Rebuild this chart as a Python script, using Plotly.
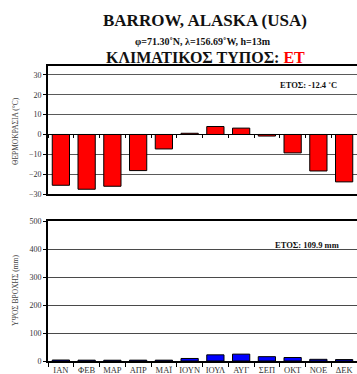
import plotly.graph_objects as go

# Monthly climate normals for Barrow, Alaska
months = ["ΙΑΝ", "ΦΕΒ", "ΜΑΡ", "ΑΠΡ", "ΜΑΪ", "ΙΟΥΝ", "ΙΟΥΛ", "ΑΥΓ", "ΣΕΠ", "ΟΚΤ", "ΝΟΕ", "ΔΕΚ"]
temperature = [-25.6, -27.6, -26.1, -18.2, -7.3, 0.6, 4.0, 3.2, -0.8, -9.3, -18.4, -23.9]
precipitation = [3.5, 3.0, 2.8, 3.0, 3.0, 9.0, 22.0, 24.5, 15.5, 12.5, 6.0, 5.1]
temp_annual = -12.4
precip_annual = 109.9

temp_ticks = [-30, -20, -10, 0, 10, 20, 30]
precip_ticks = [0, 100, 200, 300, 400, 500]
temp_range = [-30, 34.5]
precip_range = [0, 500]

W, H = 357, 374
ML, MR, MT, MB = 48, 0, 66, 13
PLOT_H = H - MT - MB


def py(pixel_y):
    """Paper y for a pixel row measured from the top of the page."""
    return (H - MB - pixel_y) / PLOT_H


def px(pixel_x):
    return (pixel_x - ML) / (W - ML - MR)


top_dom = [py(194), 1.0]
bot_dom = [0.0, py(221)]

SERIF = "Liberation Serif"

fig = go.Figure()

fig.add_trace(go.Bar(
    x=months, y=temperature, xaxis="x", yaxis="y",
    marker=dict(color="#FF0000", line=dict(color="#000000", width=1)),
    showlegend=False, hoverinfo="x+y",
))
fig.add_trace(go.Bar(
    x=months, y=precipitation, xaxis="x2", yaxis="y2",
    marker=dict(color="#0000FF", line=dict(color="#000000", width=1)),
    showlegend=False, hoverinfo="x+y",
))

# invisible trace that carries the category axis drawn along the zero line
fig.add_trace(go.Scatter(x=months, y=[0] * len(months), xaxis="x3", yaxis="y",
                         mode="markers", marker=dict(opacity=0), showlegend=False,
                         hoverinfo="skip"))

zero_pos = top_dom[0] + (0 - temp_range[0]) / (temp_range[1] - temp_range[0]) * (top_dom[1] - top_dom[0])

tickfont = dict(family=SERIF, size=8, color="#333333")

fig.update_layout(
    width=W, height=H,
    margin=dict(l=ML, r=MR, t=MT, b=MB),
    paper_bgcolor="white", plot_bgcolor="white",
    bargap=0.33,
    xaxis=dict(domain=[0, 1], anchor="y", type="category", range=[-0.5, 11.5],
               showticklabels=False, ticks="", showline=True, linecolor="#000000",
               linewidth=1.5, mirror=True, showgrid=False, zeroline=False,
               automargin=False),
    yaxis=dict(domain=top_dom, anchor="x", range=temp_range, tickvals=temp_ticks,
               tickfont=tickfont, ticks="outside", ticklen=3, tickcolor="#000000",
               showline=True, linecolor="#000000", linewidth=2,
               showgrid=True, gridcolor="#5a5a5a", gridwidth=1.3,
               zeroline=True, zerolinecolor="#000000", zerolinewidth=1,
               automargin=False),
    xaxis3=dict(domain=[0, 1], anchor="free", position=zero_pos, overlaying="x",
                type="category", range=[-0.5, 11.5], showticklabels=False,
                ticks="outside", tickson="boundaries", ticklen=3, tickcolor="#000000",
                showline=True, linecolor="#000000", linewidth=1, showgrid=False,
                zeroline=False, automargin=False),
    xaxis2=dict(domain=[0, 1], anchor="y2", type="category", range=[-0.5, 11.5],
                tickfont=dict(family=SERIF, size=8.5, color="#333333"), tickangle=0,
                ticks="outside", tickson="boundaries", ticklen=4, tickcolor="#000000",
                showline=True, linecolor="#000000", linewidth=2, mirror=True,
                showgrid=False, zeroline=False, automargin=False),
    yaxis2=dict(domain=bot_dom, anchor="x2", range=precip_range, tickvals=precip_ticks,
                tickfont=tickfont, ticks="outside", ticklen=3, tickcolor="#000000",
                showline=True, linecolor="#000000", linewidth=2,
                showgrid=True, gridcolor="#4a4a4a", gridwidth=1.4, zeroline=False,
                automargin=False),
)

annotations = [
    dict(text="<b>BARROW, ALASKA (USA)</b>", x=px(205), y=py(21),
         font=dict(family=SERIF, size=17, color="#111111")),
    dict(text="<b>φ=71.30˚N, λ=156.69˚W, h=13m</b>", x=px(203), y=py(42),
         font=dict(family=SERIF, size=10, color="#111111")),
    dict(text="<b>ΚΛΙΜΑΤΙΚΟΣ ΤΥΠΟΣ: <span style='color:#FF0000'>ET</span></b>",
         x=px(205), y=py(58), font=dict(family=SERIF, size=16, color="#111111")),
    dict(text=f"<b>ΕΤΟΣ: {temp_annual:.1f} ˚C</b>", x=px(339), y=py(85), xanchor="right",
         font=dict(family=SERIF, size=8.5, color="#111111"), bgcolor="white"),
    dict(text=f"<b>ΕΤΟΣ: {precip_annual:.1f} mm</b>", x=px(341), y=py(245), xanchor="right",
         font=dict(family=SERIF, size=8.5, color="#111111")),
    dict(text="ΘΕΡΜΟΚΡΑΣΙΑ (°C)", x=px(15), y=py(131), textangle=-90,
         font=dict(family=SERIF, size=7.5, color="#444444")),
    dict(text="ΥΨΟΣ ΒΡΟΧΗΣ (mm)", x=px(15), y=py(291), textangle=-90,
         font=dict(family=SERIF, size=7.5, color="#444444")),
]
for a in annotations:
    a.setdefault("xanchor", "center")
    fig.add_annotation(xref="paper", yref="paper", showarrow=False, yanchor="middle", **a)

fig.write_html("out.html")
